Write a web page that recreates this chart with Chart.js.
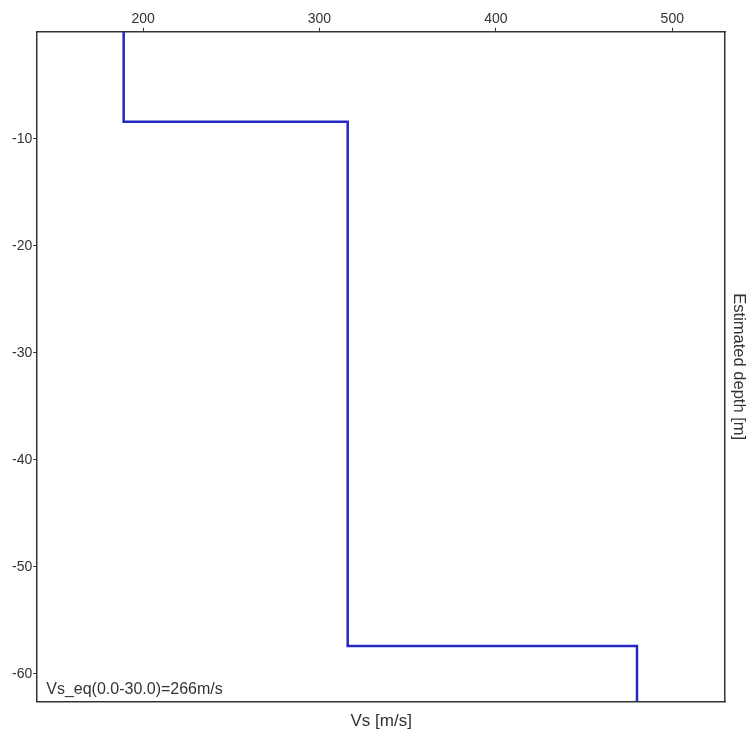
<!DOCTYPE html>
<html>
<head>
<meta charset="utf-8">
<script src="https://cdn.jsdelivr.net/npm/chart.js@4/dist/chart.umd.min.js"></script>
<style>
    body { margin: 0; background: #fff; }
    #wrap { width: 752px; height: 735px; }
</style>
</head>
<body>
<div id="wrap"><canvas id="vsChart" width="752" height="735"></canvas></div>
<script>
// layer data
const layerVs = [189, 316, 480];          // m/s
const layerTop = [0, -8.4, -57.4];        // m
const bottomDepth = -62.6;                // m (end of plot)
const xTicks = [200, 300, 400, 500];
const yTicks = [-10, -20, -30, -40, -50, -60];
const vsEqText = 'Vs_eq(0.0-30.0)=266m/s';
const xTitle = 'Vs [m/s]';
const yTitle = 'Estimated depth [m]';

// build stepped profile points
const profile = [];
layerVs.forEach((v, i) => {
    const bottom = i < layerVs.length - 1 ? layerTop[i + 1] : bottomDepth;
    profile.push({ x: v, y: layerTop[i] });
    profile.push({ x: v, y: bottom });
});

const fontFam = 'Arial, "Liberation Sans", sans-serif';

// text inside the plot, bottom left
const vsEqLabel = {
    id: 'vsEqLabel',
    afterDatasetsDraw(chart) {
        const { ctx, chartArea } = chart;
        ctx.save();
        ctx.font = '16px ' + fontFam;
        ctx.fillStyle = '#333';
        ctx.textBaseline = 'middle';
        ctx.fillText(vsEqText, chartArea.left + 9, chartArea.bottom - 12);
        ctx.restore();
    }
};

new Chart(document.getElementById('vsChart'), {
    type: 'line',
    data: {
        datasets: [{
            data: profile,
            borderColor: '#2626c4',
            borderWidth: 2.5,
            pointRadius: 0,
            fill: false,
            tension: 0
        }]
    },
    options: {
        responsive: false,
        animation: false,
        layout: { padding: { top: 11, left: 11, right: 0, bottom: 1 } },
        plugins: { legend: { display: false }, tooltip: { enabled: false } },
        scales: {
            x: {
                type: 'linear',
                position: 'top',
                min: 140,
                max: 530,
                afterBuildTicks: axis => { axis.ticks = xTicks.map(v => ({ value: v })); },
                grid: { drawOnChartArea: false, tickLength: 4, color: '#333' },
                border: { color: '#333', width: 1.5 },
                ticks: { color: '#333', font: { family: fontFam, size: 14 }, padding: 0, maxRotation: 0 }
            },
            x2: {
                type: 'linear',
                position: 'bottom',
                min: 140,
                max: 530,
                grid: { display: false, drawTicks: false },
                border: { color: '#333', width: 1.5 },
                ticks: { display: false },
                title: { display: true, text: xTitle, color: '#333', font: { family: fontFam, size: 17 }, padding: { top: 10, bottom: 2 } }
            },
            y: {
                type: 'linear',
                position: 'left',
                min: bottomDepth,
                max: 0,
                afterBuildTicks: axis => { axis.ticks = yTicks.map(v => ({ value: v })); },
                grid: { drawOnChartArea: false, tickLength: 4, color: '#333' },
                border: { color: '#333', width: 1.5 },
                ticks: { color: '#333', font: { family: fontFam, size: 14 }, padding: 1 }
            },
            y2: {
                type: 'linear',
                position: 'right',
                min: bottomDepth,
                max: 0,
                grid: { display: false, drawTicks: false },
                border: { color: '#333', width: 1.5 },
                ticks: { display: false },
                title: { display: true, text: yTitle, color: '#333', font: { family: fontFam, size: 16.5 }, padding: { top: 4, bottom: 3 } }
            }
        }
    },
    plugins: [vsEqLabel]
});
</script>
</body>
</html>
